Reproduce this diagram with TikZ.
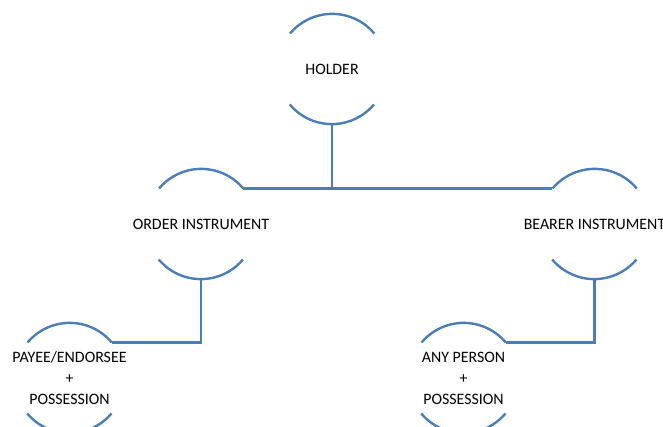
\documentclass[tikz,border=0pt]{standalone}
\usepackage{fontspec}
\setmainfont{Carlito}
\definecolor{linecol}{HTML}{4A7EBB}
\tikzset{
  ring/.style={circle, minimum size=110pt, inner sep=0pt, draw=none},
  lbl/.style={font=\fontsize{15.9}{21}\selectfont, text=black, align=center, inner sep=0pt},
  conn/.style={draw=linecol, line width=2.4pt},
}
\newcommand{\halfarcs}[1]{%
  \draw[conn] (#1.40) arc[start angle=40, end angle=140, radius=55pt];
  \draw[conn] (#1.220) arc[start angle=220, end angle=320, radius=55pt];
}
\begin{document}
\begin{tikzpicture}[x=1pt,y=1pt]
\useasboundingbox (0,0) rectangle (663,427);
\node[ring] (holder) at (332,358) {};
\node[ring] (order) at (201,203) {};
\node[ring] (bearer) at (594.5,203) {};
\node[ring] (payee) at (69.5,49) {};
\node[ring] (anyp) at (463.5,49) {};
\halfarcs{holder}
\halfarcs{order}
\halfarcs{bearer}
\halfarcs{payee}
\halfarcs{anyp}
\node[lbl] (holdert) at (holder) {HOLDER};
\node[lbl] (ordert) at (order) {ORDER INSTRUMENT};
\node[lbl] (bearert) at (bearer) {BEARER INSTRUMENT};
\node[lbl] (payeet) at (payee) {PAYEE/ENDORSEE\\+\\POSSESSION};
\node[lbl] (anypt) at (anyp) {ANY PERSON\\+\\POSSESSION};
\draw[conn] (order.40) -- (bearer.140);
\draw[conn] (holder.south) -- (holder.south |- order.40);
\draw[conn] (order.south) -- (order.south |- payee.40) -- (payee.40);
\draw[conn] (bearer.south) -- (bearer.south |- anyp.40) -- (anyp.40);
\end{tikzpicture}
\end{document}
